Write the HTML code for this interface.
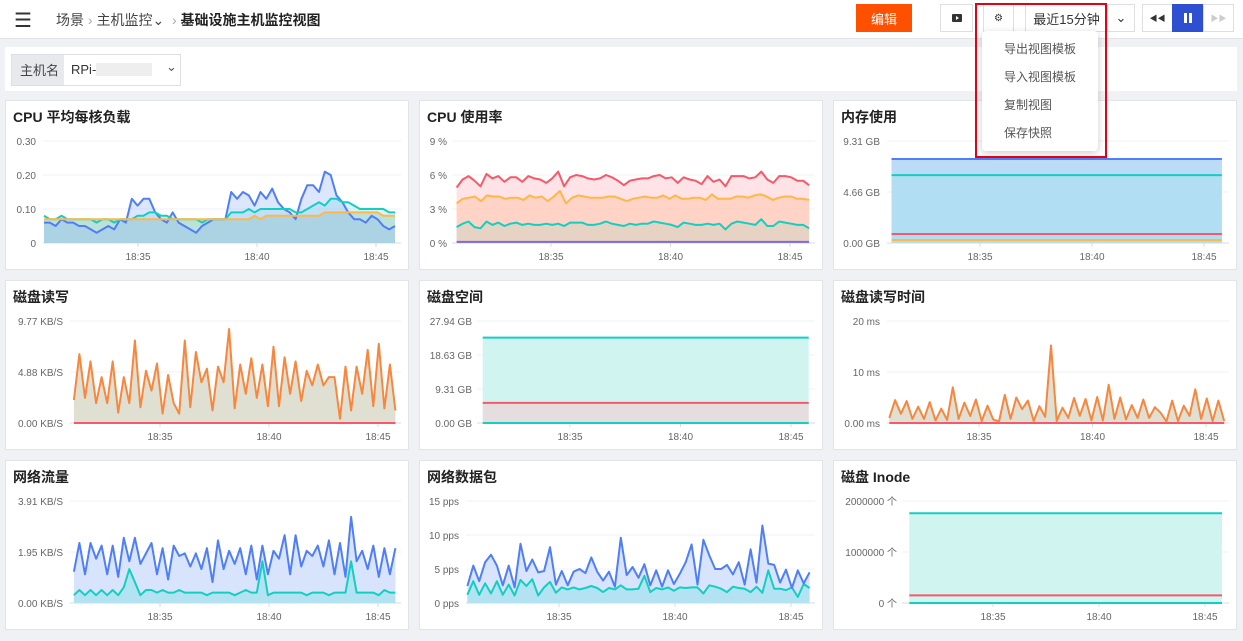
<!DOCTYPE html>
<html><head><meta charset="utf-8">
<style>
*{box-sizing:border-box;margin:0;padding:0}
body{width:1243px;height:641px;overflow:hidden;background:#f0f1f4;font-family:"Liberation Sans","Noto Sans CJK SC",sans-serif;position:relative;color:#222}
.abs{position:absolute}
.topbar{left:0;top:0;width:1243px;height:39px;background:#fff;border-bottom:1px solid #e2e4e8}
.btn{position:absolute;top:4px;height:28px;border:1px solid #dcdfe5;background:#fff;font-size:13px;display:flex;align-items:center;justify-content:center;color:#333}
.menu{left:982px;top:31px;width:116px;height:120px;background:#fff;border-radius:4px;box-shadow:0 2px 8px rgba(0,0,0,.2)}
.menu div{position:absolute;left:22px;font-size:12px;color:#555}
</style></head><body>
<div class="abs topbar">
  <div class="abs" style="left:14px;top:8px;font-size:20px;color:#333">☰</div>
  <div class="abs" style="left:56px;top:10px;font-size:14px;color:#444"><span>场景</span> <span style="color:#aaa">›</span> <span>主机监控⌄</span> <span style="color:#aaa">&nbsp;›</span> <b style="color:#222">基础设施主机监控视图</b></div>
  <div class="btn" style="left:856px;width:56px;background:#ff5000;border-color:#ff5000;color:#fff">编辑</div>
  <div class="btn" style="left:940px;width:33px"><svg width="10" height="10"><rect x="0" y="1" width="10" height="8" rx="1" fill="#333"/><path d="M4 3 L7 5 L4 7Z" fill="#fff"/></svg></div>
  <div class="btn" style="left:983px;width:31px;font-size:10px">⚙</div>
  <div class="btn" style="left:1025px;width:83px">最近15分钟</div>
  <div class="btn" style="left:1107px;width:28px">⌄</div>
  <div class="btn" style="left:1142px;width:31px;font-size:8px">◀◀</div>
  <div class="btn" style="left:1172px;width:31px;background:#2f4fd1;border-color:#2f4fd1;color:#fff"><svg width="8" height="10"><rect x="0" y="0" width="3" height="10" fill="#fff"/><rect x="5" y="0" width="3" height="10" fill="#fff"/></svg></div>
  <div class="btn" style="left:1203px;width:31px;font-size:8px;color:#ccc">▶▶</div>
</div>
<div class="abs" style="left:5px;top:47px;width:1232px;height:44px;background:#fff">
  <div class="abs" style="left:6px;top:7px;width:170px;height:32px;border:1px solid #dcdfe5">
    <div class="abs" style="left:0;top:0;width:52px;height:30px;background:#e8e9ec;font-size:13px;color:#444;padding:5px 0 0 8px">主机名</div>
    <div class="abs" style="left:59px;top:7px;font-size:13px;color:#333">RPi-</div>
    <div class="abs" style="left:84px;top:8px;width:56px;height:13px;background:#eee"></div>
    <div class="abs" style="left:154px;top:4px;font-size:13px;color:#555">⌄</div>
  </div>
</div>
<svg id="charts" class="abs" style="left:0;top:0" width="1243" height="641"></svg>
<div class="abs menu">
  <div style="top:9px">导出视图模板</div>
  <div style="top:37px">导入视图模板</div>
  <div style="top:65px">复制视图</div>
  <div style="top:93px">保存快照</div>
</div>
<div class="abs" style="left:975px;top:3px;width:132px;height:155px;border:2px solid #e60012"></div>
<script>
const timeTicks=["18:35","18:40","18:45"];
const tickMinutes=[35,40,45];
const tStart=31.05,tEnd=45.8;
const cpuLoadTicks=["0","0.10","0.20","0.30"];
const cpuLoadBlue=[0.06,0.06,0.05,0.07,0.06,0.06,0.05,0.05,0.04,0.03,0.04,0.05,0.04,0.07,0.06,0.13,0.11,0.13,0.13,0.09,0.07,0.06,0.09,0.06,0.05,0.04,0.03,0.05,0.06,0.07,0.07,0.07,0.15,0.13,0.15,0.14,0.11,0.15,0.13,0.16,0.12,0.10,0.09,0.07,0.13,0.17,0.17,0.15,0.21,0.20,0.14,0.12,0.09,0.07,0.07,0.06,0.08,0.07,0.05,0.04,0.05];
const cpuLoadTeal=[0.08,0.07,0.07,0.08,0.07,0.07,0.07,0.07,0.07,0.06,0.07,0.07,0.06,0.07,0.07,0.07,0.08,0.08,0.09,0.09,0.08,0.08,0.07,0.07,0.07,0.07,0.07,0.06,0.07,0.07,0.07,0.07,0.09,0.09,0.09,0.10,0.09,0.10,0.10,0.10,0.10,0.10,0.10,0.09,0.09,0.10,0.11,0.12,0.11,0.13,0.13,0.12,0.12,0.11,0.10,0.10,0.10,0.10,0.10,0.09,0.09];
const cpuLoadOrange=[0.07,0.07,0.07,0.07,0.07,0.07,0.07,0.07,0.07,0.07,0.07,0.07,0.07,0.07,0.07,0.07,0.07,0.07,0.07,0.07,0.07,0.07,0.07,0.07,0.07,0.07,0.07,0.07,0.07,0.07,0.07,0.07,0.07,0.07,0.07,0.07,0.08,0.07,0.08,0.08,0.08,0.08,0.08,0.08,0.08,0.08,0.08,0.08,0.09,0.09,0.09,0.09,0.09,0.09,0.09,0.09,0.09,0.09,0.08,0.08,0.08];
const cpuUseTicks=["0 %","3 %","6 %","9 %"];
const cpuUseRed=[4.9,5.6,5.9,5.5,5.0,6.1,5.7,5.9,5.4,5.8,5.8,5.4,5.9,5.7,5.6,5.3,5.7,6.3,5.0,5.8,6.0,5.9,5.7,5.6,5.7,6.0,5.8,5.5,5.1,5.5,5.6,5.7,5.7,5.9,6.0,5.7,5.8,5.3,5.8,5.6,5.5,5.2,5.9,5.4,5.6,5.0,5.9,5.9,5.9,5.7,5.8,6.3,5.6,5.3,5.9,5.9,5.8,5.5,5.5,5.1];
const cpuUseOrange=[3.5,3.9,4.0,4.1,3.7,4.2,4.1,4.1,3.9,4.0,4.0,3.8,4.2,4.0,4.1,3.7,4.1,4.6,3.5,4.0,4.2,4.1,4.0,4.0,4.0,4.1,4.1,3.9,3.7,3.9,4.0,4.1,4.0,4.0,4.2,3.9,4.2,3.9,3.9,4.0,4.0,3.8,4.3,3.9,3.9,3.9,4.1,4.1,4.0,4.2,4.3,4.1,3.8,4.0,4.1,4.1,3.9,3.9,3.8];
const cpuUseTeal=[1.4,1.7,1.9,1.4,1.3,1.9,1.6,1.8,1.5,1.7,1.8,1.6,1.7,1.6,1.6,1.7,1.6,1.7,1.5,1.8,1.8,1.8,1.6,1.6,1.7,1.9,1.7,1.6,1.5,1.7,1.6,1.7,1.7,1.9,1.8,1.7,1.6,1.4,1.8,1.7,1.6,1.6,1.7,1.6,1.7,1.2,1.7,1.9,1.8,1.7,1.6,2.1,1.5,1.5,1.9,1.8,1.7,1.6,1.6,1.3];
const cpuUsePurple=[0.1,0.1,0.1,0.1,0.1,0.1,0.1,0.1,0.1,0.1,0.1,0.1,0.1,0.1,0.1,0.1,0.1,0.1,0.1,0.1];
const memTicks=["0.00 GB","4.66 GB","9.31 GB"];
const memBlue=[7.67,7.67,7.67,7.67,7.67,7.67,7.67,7.67,7.67,7.67];
const memTeal=[6.2,6.2,6.2,6.2,6.2,6.2,6.2,6.2,6.2,6.2];
const memRed=[0.82,0.82,0.82,0.82,0.82,0.82,0.82,0.82,0.82,0.82];
const memOrange=[0.27,0.27,0.27,0.27,0.27,0.27,0.27,0.27,0.27,0.27];
const diskIoTicks=["0.00 KB/S","4.88 KB/S","9.77 KB/S"];
const diskIoOrange=[2.2,6.6,2.4,5.9,1.9,4.4,1.9,5.9,1.0,4.4,1.9,7.9,1.5,5.0,3.1,5.7,0.9,4.6,1.9,0.9,7.9,1.5,6.8,3.9,5.2,1.2,5.4,3.9,9.0,1.4,5.6,2.8,6.2,2.4,5.6,1.6,7.3,1.6,6.3,2.8,5.9,2.1,5.0,3.6,5.6,3.6,4.4,4.4,0.4,5.4,1.2,5.4,2.8,7.0,1.6,7.6,1.4,5.6,1.2];
const diskIoRed=[0,0,0,0,0,0,0,0,0,0];
const diskSpaceTicks=["0.00 GB","9.31 GB","18.63 GB","27.94 GB"];
const diskSpaceTeal=[23.4,23.4,23.4,23.4,23.4,23.4,23.4,23.4,23.4,23.4];
const diskSpaceRed=[5.5,5.5,5.5,5.5,5.5,5.5,5.5,5.5,5.5,5.5];
const diskSpaceBase=[0,0,0,0,0,0,0,0,0,0];
const diskTimeTicks=["0.00 ms","10 ms","20 ms"];
const diskTimeOrange=[1,4.5,1.8,4.3,0.8,3.2,0.8,4.1,0.5,2.8,0.6,7,0.8,4,1.4,4.6,0.4,3.4,0.7,0.3,5.5,0.8,5,2.7,4.4,0.4,3.3,1.2,15.2,0.4,3,1,4.9,1.4,4.7,0.5,5.1,0.5,7.5,0.8,5,0.7,3.5,1,4.6,1,3.1,2,0.3,4.4,0.4,3.4,1.4,6.6,0.8,4.8,0.4,4.4,0.4];
const diskTimeRed=[0,0,0,0,0,0,0,0,0,0];
const netTicks=["0.00 KB/S","1.95 KB/S","3.91 KB/S"];
const netBlue=[1.2,2.3,1.1,2.3,1.7,2.2,1.1,2.2,1.0,2.5,1.6,2.5,1.5,1.9,2.3,1.1,2.1,0.9,2.2,1.8,1.9,1.4,1.9,1.3,2.1,0.8,2.4,1.3,2.0,1.5,2.1,1.1,2.2,0.9,2.2,1.1,2.0,1.7,2.6,1.1,2.6,1.4,2.0,1.8,2.2,1.4,2.4,1.1,2.3,1.0,3.3,1.6,2.0,1.3,2.2,1.0,2.1,1.1,2.1];
const netTeal=[0.3,0.5,0.3,0.5,0.3,0.5,0.3,0.5,0.3,0.6,1.3,0.8,0.3,0.5,0.5,0.4,0.5,0.4,0.4,0.5,0.4,0.4,0.4,0.4,0.3,0.4,0.4,0.4,0.4,0.3,0.4,0.5,0.4,0.4,1.6,0.3,0.4,0.4,0.4,0.4,0.4,0.4,0.3,0.4,0.4,0.4,0.3,0.4,0.4,0.4,1.6,0.4,0.4,0.4,0.4,0.3,0.5,0.4,0.4];
const pktTicks=["0 pps","5 pps","10 pps","15 pps"];
const pktBlue=[2.5,5.5,3.2,6,7.1,5.5,2.6,5.5,2.3,8.7,4.7,6.4,4.5,4.7,8.2,2.7,4.7,2.6,4.6,5,4.4,6.7,4.6,3.3,4.6,2.4,9.6,4.1,5.3,3.7,5.7,2.6,4.8,2.4,4.8,2.8,4.3,6,8.6,2.7,9.3,7,5,5,5.6,4.2,6,2.7,7.9,3,11.4,5.8,5.6,3,4.9,2.2,4.8,2.9,4.5];
const pktTeal=[1.2,3.2,1.2,2.9,1.4,3.2,1.2,2.7,1.1,3.4,2.5,3.5,1.1,2.3,3.1,1.5,2.3,2,2.3,2,2.2,2.5,2.2,1.6,2.2,2,2.6,2,2,2.1,4,1.6,2.2,2,2.3,1.8,2.3,2.2,2.3,2.3,1.4,2.6,2.4,2.1,1.6,2.4,2.2,2.1,1.6,2.4,1.5,4.8,2.1,2.1,1.9,2.3,0.9,2.8,2.2];
const inodeTicks=["0 个","1000000 个","2000000 个"];
const inodeTeal=[1760000,1760000,1760000,1760000,1760000,1760000,1760000,1760000,1760000,1760000];
const inodeRed=[150000,150000,150000,150000,150000,150000,150000,150000,150000,150000];
const inodeBase=[0,0,0,0,0,0,0,0,0,0];

const BLUE="#4f7ef8",TEAL="#13cfc0",ORANGE="#ffb74a",RED="#f5596a",PURPLE="#7b68ee",DORANGE="#f7873e";
const svg=document.getElementById('charts');
const NS="http://www.w3.org/2000/svg";
function mk(tag,attrs,parent){const e=document.createElementNS(NS,tag);for(const k in attrs)e.setAttribute(k,attrs[k]);(parent||svg).appendChild(e);return e;}

const panels=[
 {name:"cpu-load-panel",title:"CPU 平均每核负载",px:5,py:100,x35:138,x45:376,labR:36,gridL:43,max:0.30,yT:141,yB:243,ticks:cpuLoadTicks,tickVals:[0,0.1,0.2,0.3],
  series:[{n:"cpu-load-orange",d:cpuLoadOrange,c:ORANGE,f:"rgba(195,218,200,0.9)"},{n:"cpu-load-teal",d:cpuLoadTeal,c:TEAL,f:"rgba(170,230,235,0.45)"},{n:"cpu-load-blue",d:cpuLoadBlue,c:BLUE,f:"rgba(140,175,250,0.3)"}]},
 {name:"cpu-usage-panel",title:"CPU 使用率",px:419,py:100,x35:551,x45:790,labR:447,gridL:452,max:9,yT:141,yB:243,ticks:cpuUseTicks,tickVals:[0,3,6,9],
  series:[{n:"cpu-usage-red",d:cpuUseRed,c:RED,f:"rgba(255,200,205,0.5)"},{n:"cpu-usage-orange",d:cpuUseOrange,c:ORANGE,f:"rgba(255,190,160,0.45)"},{n:"cpu-usage-teal",d:cpuUseTeal,c:TEAL,f:"rgba(200,210,190,0.45)"},{n:"cpu-usage-purple",d:cpuUsePurple,c:PURPLE,f:"none"}]},
 {name:"memory-panel",title:"内存使用",px:833,py:100,x35:980,x45:1204,labR:880,gridL:887,max:9.31,yT:141,yB:243,ticks:memTicks,tickVals:[0,4.655,9.31],
  series:[{n:"memory-blue",d:memBlue,c:BLUE,f:"rgba(180,215,245,0.9)"},{n:"memory-teal",d:memTeal,c:TEAL,f:"rgba(170,225,240,0.5)"},{n:"memory-red",d:memRed,c:RED,f:"none"},{n:"memory-orange",d:memOrange,c:ORANGE,f:"none"}]},
 {name:"disk-io-panel",title:"磁盘读写",px:5,py:280,x35:160,x45:378,labR:63,gridL:70,max:9.77,yT:321,yB:423,ticks:diskIoTicks,tickVals:[0,4.885,9.77],
  series:[{n:"disk-io-orange",d:diskIoOrange,c:DORANGE,f:"rgba(222,222,208,0.95)"},{n:"disk-io-red",d:diskIoRed,c:RED,f:"none"}]},
 {name:"disk-space-panel",title:"磁盘空间",px:419,py:280,x35:570,x45:791,labR:472,gridL:477,max:27.94,yT:321,yB:423,ticks:diskSpaceTicks,tickVals:[0,9.31,18.63,27.94],
  series:[{n:"disk-space-teal",d:diskSpaceTeal,c:TEAL,f:"rgba(208,245,240,1)"},{n:"disk-space-red",d:diskSpaceRed,c:RED,f:"rgba(230,222,222,1)"},{n:"disk-space-base",d:diskSpaceBase,c:TEAL,f:"none"}]},
 {name:"disk-time-panel",title:"磁盘读写时间",px:833,py:280,x35:979,x45:1206,labR:880,gridL:887,max:20,yT:321,yB:423,ticks:diskTimeTicks,tickVals:[0,10,20],
  series:[{n:"disk-time-orange",d:diskTimeOrange,c:DORANGE,f:"rgba(222,222,208,0.95)"},{n:"disk-time-red",d:diskTimeRed,c:RED,f:"none"}]},
 {name:"network-traffic-panel",title:"网络流量",px:5,py:460,x35:160,x45:378,labR:63,gridL:70,max:3.91,yT:501,yB:603,ticks:netTicks,tickVals:[0,1.955,3.91],
  series:[{n:"network-blue",d:netBlue,c:BLUE,f:"rgba(215,228,252,1)"},{n:"network-teal",d:netTeal,c:TEAL,f:"rgba(170,225,240,0.8)"}]},
 {name:"network-packets-panel",title:"网络数据包",px:419,py:460,x35:559,x45:791,labR:459,gridL:466,max:15,yT:501,yB:603,ticks:pktTicks,tickVals:[0,5,10,15],
  series:[{n:"packets-blue",d:pktBlue,c:BLUE,f:"rgba(215,228,252,1)"},{n:"packets-teal",d:pktTeal,c:TEAL,f:"rgba(170,225,240,0.8)"}]},
 {name:"disk-inode-panel",title:"磁盘 Inode",px:833,py:460,x35:993,x45:1205,labR:897,gridL:902,max:2000000,yT:501,yB:603,ticks:inodeTicks,tickVals:[0,1000000,2000000],
  series:[{n:"inode-teal",d:inodeTeal,c:TEAL,f:"rgba(208,245,240,1)"},{n:"inode-red",d:inodeRed,c:RED,f:"none"},{n:"inode-base",d:inodeBase,c:TEAL,f:"none"}]}
];

panels.forEach(p=>{
  const g=mk('g',{});
  
  
  const bg=mk('rect',{x:p.px+0.5,y:p.py+0.5,width:403,height:169,fill:'#fff',stroke:'#e2e4e8'},g);
  
  
  const t=mk('text',{x:p.px+8,y:p.py+22,'font-size':14,'font-weight':'bold',fill:'#222','font-family':'"Liberation Sans","Noto Sans CJK SC",sans-serif'},g);
  t.textContent=p.title;
  
  
  const xs=(p.x45-p.x35)/10;
  const xScale=m=>p.x35+(m-35)*xs;
  const yScale=v=>p.yB-(v/p.max)*(p.yB-p.yT);
  const gridR=p.px+396;
  p.tickVals.forEach((v,i)=>{
    const y=yScale(v);
    const gl=mk('line',{x1:p.gridL,x2:gridR,y1:y,y2:y,stroke:i===0?'#d8dbe0':'#eef0f3'},g);
    
    
    const lt=mk('text',{x:p.labR,y:y+4,'font-size':10,fill:'#666','text-anchor':'end','font-family':'"Liberation Sans","Noto Sans CJK SC",sans-serif'},g);
    lt.textContent=p.ticks[i];
    
    
  });
  tickMinutes.forEach((m,i)=>{
    const x=xScale(m);
    mk('line',{x1:x,x2:x,y1:p.yB,y2:p.yB+4,stroke:'#d8dbe0'},g);
    const lt=mk('text',{x:x,y:p.yB+17,'font-size':10,fill:'#666','text-anchor':'middle','font-family':'"Liberation Sans",sans-serif'},g);
    lt.textContent=timeTicks[i];
    
    
  });
  const ptsOf=d=>d.map((v,i)=>[xScale(tStart+(tEnd-tStart)*i/(d.length-1)),yScale(v)]);
  p.series.forEach(s=>{
    if(s.f==='none')return;
    const pts=ptsOf(s.d);
    const dd='M'+pts[0][0]+','+p.yB+' '+pts.map(q=>'L'+q[0].toFixed(1)+','+q[1].toFixed(1)).join(' ')+' L'+pts[pts.length-1][0]+','+p.yB+'Z';
    const a=mk('path',{d:dd,fill:s.f,stroke:'none'},g);
    
    
  });
  p.series.slice().reverse().forEach(s=>{
    const pts=ptsOf(s.d);
    const l=mk('polyline',{points:pts.map(q=>q[0].toFixed(1)+','+q[1].toFixed(1)).join(' '),fill:'none',stroke:s.c,'stroke-width':2,'stroke-linejoin':'round'},g);
    
    
  });
});
</script>
</body></html>
